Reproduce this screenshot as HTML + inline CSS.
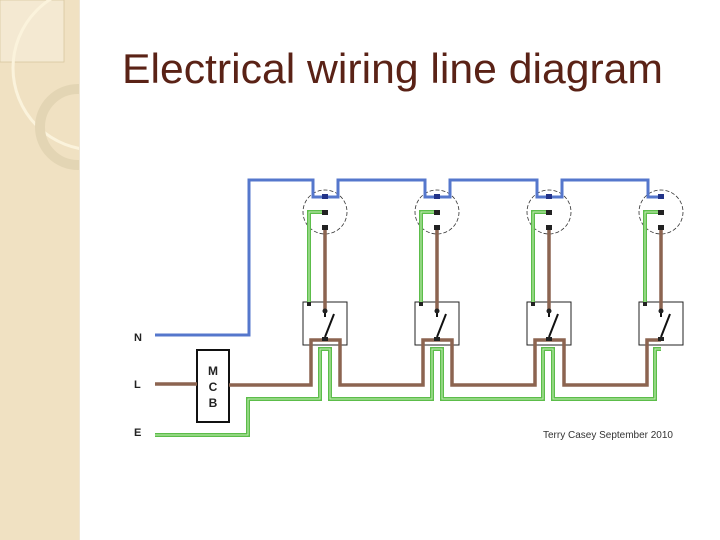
<!DOCTYPE html>
<html><head><meta charset="utf-8"><style>
html,body{margin:0;padding:0;background:#fff;}
svg{display:block;}
</style></head><body>
<svg width="720" height="540" viewBox="0 0 720 540" xmlns="http://www.w3.org/2000/svg">
<defs>
<clipPath id="lc"><rect x="0" y="0" width="79" height="540"/></clipPath>
</defs>
<rect x="0" y="0" width="79" height="540" fill="#f0e1c2"/>
<g clip-path="url(#lc)">
<rect x="0" y="0" width="64" height="62" fill="#f4e9d2" stroke="#d9c7a0" stroke-width="0.8"/>
<circle cx="95" cy="68" r="82" fill="none" stroke="#fbf3dc" stroke-width="3"/>
<circle cx="78" cy="127" r="38" fill="none" stroke="#e3d5b4" stroke-width="10"/>
</g>
<rect x="79" y="0" width="1" height="540" fill="#efe6d4"/>

<text x="122" y="83" font-family="Liberation Sans, sans-serif" font-size="42" fill="#5a2216" textLength="541" lengthAdjust="spacingAndGlyphs">Electrical wiring line diagram</text>

<g font-family="Liberation Sans, sans-serif" font-weight="bold" font-size="11" fill="#222">
<text x="134" y="341">N</text>
<text x="134" y="388">L</text>
<text x="134" y="436">E</text>
</g>
<text x="543" y="438" font-family="Liberation Sans, sans-serif" font-size="10" fill="#333" textLength="130" lengthAdjust="spacingAndGlyphs">Terry Casey September 2010</text>

<g fill="none" stroke="#333" stroke-width="0.8">
<circle cx="325" cy="212" r="22" stroke-dasharray="4,2"/>
<circle cx="437" cy="212" r="22" stroke-dasharray="4,2"/>
<circle cx="549" cy="212" r="22" stroke-dasharray="4,2"/>
<circle cx="661" cy="212" r="22" stroke-dasharray="4,2"/>
</g>
<g fill="#fff" stroke="#222" stroke-width="1">
<rect x="303" y="302" width="44" height="43"/>
<rect x="415" y="302" width="44" height="43"/>
<rect x="527" y="302" width="44" height="43"/>
<rect x="639" y="302" width="44" height="43"/>
</g>

<rect x="197" y="350" width="32" height="72" fill="#fff" stroke="#111" stroke-width="2"/>
<g font-family="Liberation Sans, sans-serif" font-weight="bold" font-size="12" fill="#222" text-anchor="middle">
<text x="213" y="375">M</text>
<text x="213" y="391">C</text>
<text x="213" y="407">B</text>
</g>

<path d="M155,335 H249 V180 H313 V197 H338 V180 H425 V197 H450 V180 H537 V197 H562 V180 H648 V197 H661" fill="none" stroke="#5577cc" stroke-width="3"/>

<g fill="none" stroke="#8c6450" stroke-width="3.5">
<path d="M155,384 H197"/>
<path d="M229,385 H311 V340 H340 V385 H423 V340 H452 V385 H535 V340 H564 V385 H647 V340 H661"/>
<path d="M325,227 V311 M437,227 V311 M549,227 V311 M661,227 V311"/>
</g>

<g fill="none" stroke-linejoin="miter">
<g stroke="#5cbd4a" stroke-width="4">
<path d="M155,435 H248 V399 H320 V349 H330 V399 H432 V349 H442 V399 H543 V349 H553 V399 H655 V349 H661"/>
<path d="M325,212 H309 V304 M437,212 H421 V304 M549,212 H533 V304 M661,212 H645 V304"/>
</g>
<g stroke="#c8efb8" stroke-width="1">
<path d="M155,435 H248 V399 H320 V349 H330 V399 H432 V349 H442 V399 H543 V349 H553 V399 H655 V349 H661"/>
<path d="M325,212 H309 V304 M437,212 H421 V304 M549,212 H533 V304 M661,212 H645 V304"/>
</g>
</g>

<g stroke="#111" stroke-width="2" fill="#111">
<path d="M325,311 V317 M334,314 L325,337" fill="none"/>
<path d="M437,311 V317 M446,314 L437,337" fill="none"/>
<path d="M549,311 V317 M558,314 L549,337" fill="none"/>
<path d="M661,311 V317 M670,314 L661,337" fill="none"/>
</g>
<g fill="#222">
<circle cx="325" cy="311" r="2.5"/><circle cx="437" cy="311" r="2.5"/><circle cx="549" cy="311" r="2.5"/><circle cx="661" cy="311" r="2.5"/>
<rect x="322" y="337" width="6" height="4"/><rect x="434" y="337" width="6" height="4"/><rect x="546" y="337" width="6" height="4"/><rect x="658" y="337" width="6" height="4"/>
<rect x="307" y="302" width="4" height="4"/><rect x="419" y="302" width="4" height="4"/><rect x="531" y="302" width="4" height="4"/><rect x="643" y="302" width="4" height="4"/>
<rect x="322" y="194" width="6" height="5" fill="#223388"/><rect x="434" y="194" width="6" height="5" fill="#223388"/><rect x="546" y="194" width="6" height="5" fill="#223388"/><rect x="658" y="194" width="6" height="5" fill="#223388"/>
<rect x="322" y="210" width="6" height="5"/><rect x="434" y="210" width="6" height="5"/><rect x="546" y="210" width="6" height="5"/><rect x="658" y="210" width="6" height="5"/>
<rect x="322" y="225" width="6" height="5"/><rect x="434" y="225" width="6" height="5"/><rect x="546" y="225" width="6" height="5"/><rect x="658" y="225" width="6" height="5"/>
</g>
</svg>
</body></html>
